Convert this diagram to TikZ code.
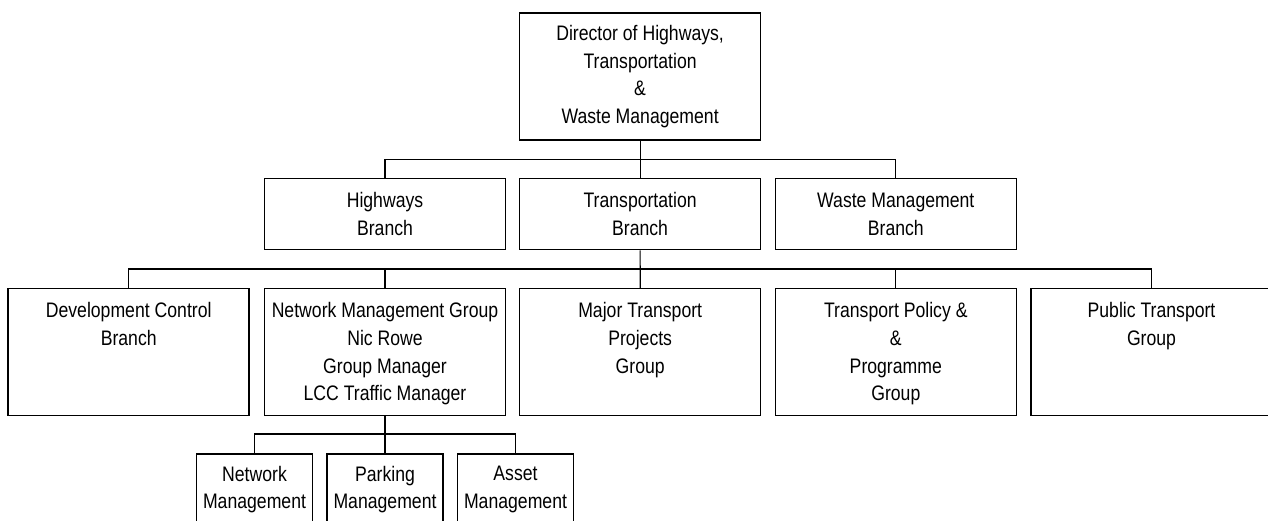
\documentclass[tikz,border=0pt]{standalone}
\usepackage{fontspec}
\setmainfont{Liberation Sans}[FakeStretch=0.84]
\begin{document}
\begin{tikzpicture}[x=1pt,y=-1pt,
  font=\fontsize{21}{27.6}\selectfont,
  box/.style={draw=black, line width=1.5pt, inner sep=0pt, align=center},
  wide/.style={box, minimum width=241pt},
  small/.style={box, minimum width=115.6pt, minimum height=80pt},
  txt/.style={inner sep=0pt, align=center, anchor=north},
  link/.style={draw=black, line width=1.2pt}]
\useasboundingbox (0,0) rectangle (1268,520);
\begin{scope}
\clip (0,0) rectangle (1268,520);

% director
\node[wide, minimum height=127pt] (dir) at (640.1,76.5)
  {Director of Highways,\\Transportation\\\&\\Waste Management};

% branches
\node[wide, minimum height=71pt] (hw) at (385,214.2) {Highways\\Branch};
\node[wide, minimum height=71pt] (tr) at (640.1,214.2) {Transportation\\Branch};
\node[wide, minimum height=71pt] (wm) at (895.8,214.2) {Waste Management\\Branch};

% groups under the branches
\node[wide, minimum height=126.6pt] (dev) at (128.7,352) {};
\node[wide, minimum height=126.6pt] (net) at (385,352) {};
\node[wide, minimum height=126.6pt] (maj) at (640.2,352) {};
\node[wide, minimum height=126.6pt] (tp)  at (895.8,352) {};
\node[wide, minimum height=126.6pt] (pub) at (1151.5,352) {};
\node[txt] (devt) at ([yshift=-14.6pt]dev.north) {Development Control\\Branch};
\node[txt] (nett) at ([yshift=-14.6pt]net.north) {Network Management Group\\Nic Rowe\\Group Manager\\LCC Traffic Manager};
\node[txt] (majt) at ([yshift=-14.6pt]maj.north) {Major Transport\\Projects\\Group};
\node[txt] (tpt)  at ([yshift=-14.6pt]tp.north)  {Transport Policy \&\\\&\\Programme\\Group};
\node[txt] (pubt) at ([yshift=-14.6pt]pub.north) {Public Transport\\Group};

% teams under network management
\node[small] (nm) at (254.5,494) {};
\node[small] (pm) at (385,494) {};
\node[small] (am) at (515.5,494) {};
\node[txt] (nmt) at ([yshift=-12.7pt]nm.north) {Network\\Management};
\node[txt] (pmt) at ([yshift=-12.7pt]pm.north) {Parking\\Management};
\node[txt] (amt) at ([yshift=-12.7pt]am.north) {Asset\\Management};

% connectors
\coordinate (bar1) at (640.1,159.5);
\coordinate (bar2) at (640.1,269);
\coordinate (bar3) at (385,434);
\draw[link] (dir.south) -- (tr.north);
\draw[link] (hw.north) |- (bar1) -| (wm.north);
\draw[link] (tr.south) -- (maj.north);
\draw[link] (dev.north) |- (bar2) -| (pub.north);
\draw[link] (net.north) -- (net.north |- bar2);
\draw[link] (tp.north) -- (tp.north |- bar2);
\draw[link] (net.south) -- (pm.north);
\draw[link] (nm.north) |- (bar3) -| (am.north);
\end{scope}
\end{tikzpicture}
\end{document}
